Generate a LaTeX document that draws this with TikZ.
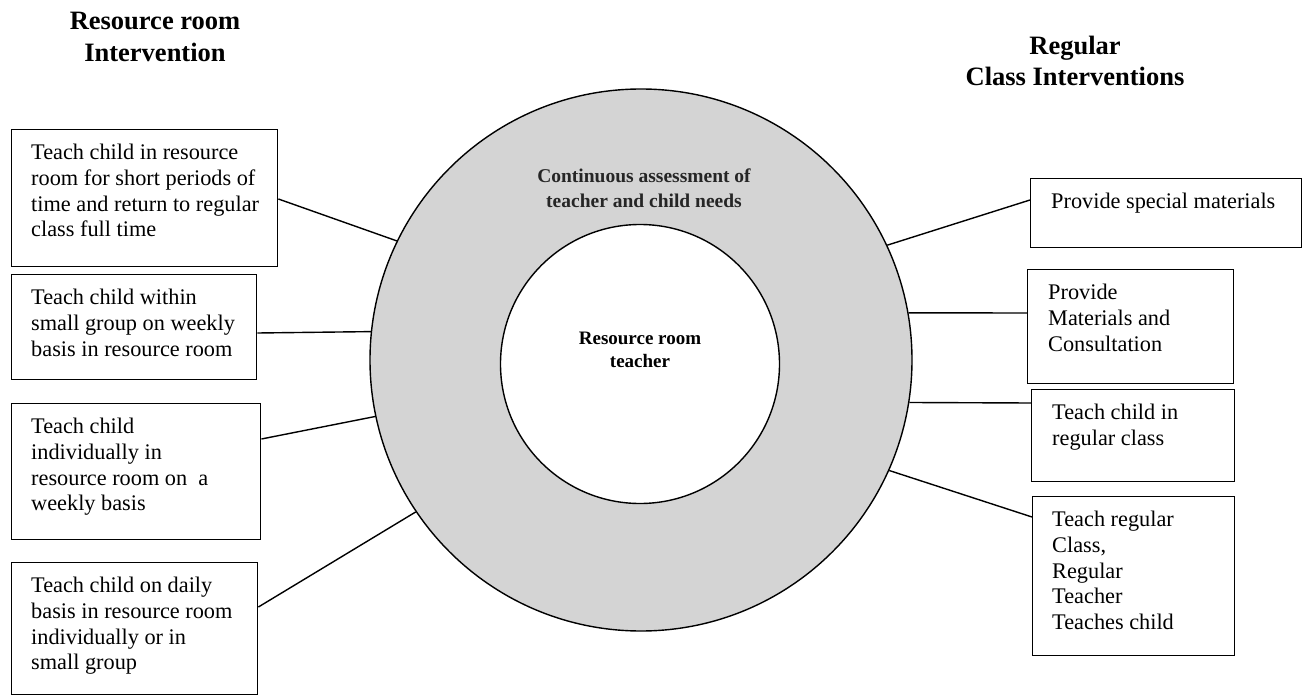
\documentclass[tikz,border=0pt]{standalone}
\usepackage{fontspec}
\setmainfont{Liberation Serif}
\usetikzlibrary{calc}
\tikzset{
  box/.style={draw=black, line width=1.4pt, rectangle, anchor=north west, inner sep=0pt},
  txt/.style={anchor=north west, align=left, inner sep=0pt, font=\fontsize{22.3}{25.7}\selectfont},
  head/.style={align=center, inner sep=0pt, font=\bfseries\fontsize{26.5}{31.5}\selectfont},
  link/.style={draw=black, line width=1.4pt},
}
\begin{document}
\begin{tikzpicture}[x=1pt, y=-1pt]
\useasboundingbox (0,0) rectangle (1302,698);
% headers
\node[head] (hl) at (155,37) {Resource room\\Intervention};
\node[head] (hr) at (1075,61) {Regular\\Class Interventions};
% ring
\node[circle, draw=black, line width=1.4pt, fill=black!17, minimum size=542pt, inner sep=0pt] (ring) at (641,360) {};
\node[circle, draw=black, line width=1.4pt, fill=white, minimum size=279pt, inner sep=0pt] (hub) at (640,364) {};
\node[align=center, inner sep=0pt, text=black!85, font=\bfseries\fontsize{19.5}{25}\selectfont] (assess) at (644,188) {Continuous assessment of\\teacher and child needs};
\node[align=center, inner sep=0pt, font=\bfseries\fontsize{19}{22.5}\selectfont] (rrt) at (640,350) {Resource room\\teacher};
% left boxes
\node[box, minimum width=266pt, minimum height=137pt] (l1) at (11,129) {};
\node[txt] (l1t) at (31,144) {Teach child in resource\\room for short periods of\\time and return to regular\\class full time};
\node[box, minimum width=245pt, minimum height=105pt] (l2) at (11,274) {};
\node[txt] (l2t) at (31,289) {Teach child within\\small group on weekly\\basis in resource room};
\node[box, minimum width=249pt, minimum height=136pt] (l3) at (11,403) {};
\node[txt] (l3t) at (31,418) {Teach child\\individually in\\resource room on\ \ a\\weekly basis};
\node[box, minimum width=246pt, minimum height=132pt] (l4) at (11,562) {};
\node[txt] (l4t) at (31,577) {Teach child on daily\\basis in resource room\\individually or in\\small group};
% right boxes
\node[box, minimum width=271pt, minimum height=69pt] (r1) at (1030,178) {};
\node[txt] (r1t) at (1051,193) {Provide special materials};
\node[box, minimum width=206pt, minimum height=114pt] (r2) at (1027,269) {};
\node[txt] (r2t) at (1048,284) {Provide\\Materials and\\Consultation};
\node[box, minimum width=203pt, minimum height=92pt] (r3) at (1031,389) {};
\node[txt] (r3t) at (1052,404) {Teach child in\\regular class};
\node[box, minimum width=202pt, minimum height=159pt] (r4) at (1032,496) {};
\node[txt] (r4t) at (1052,511) {Teach regular\\Class,\\Regular\\Teacher\\Teaches child};
% connectors
\draw[link] ([yshift=-70pt]l1.north east) -- (ring.154.7);
\draw[link] ([yshift=-59pt]l2.north east) -- (ring.174.4);
\draw[link] ([yshift=-36pt]l3.north east) -- (ring.192.3);
\draw[link] ([yshift=-45pt]l4.north east) -- (ring.214.2);
\draw[link] ([yshift=-22pt]r1.north west) -- (ring.25);
\draw[link] ([yshift=-44pt]r2.north west) -- (ring.10);
\draw[link] ([yshift=-14pt]r3.north west) -- (ring.-9);
\draw[link] ([yshift=-21pt]r4.north west) -- (ring.-24.6);
\end{tikzpicture}
\end{document}
